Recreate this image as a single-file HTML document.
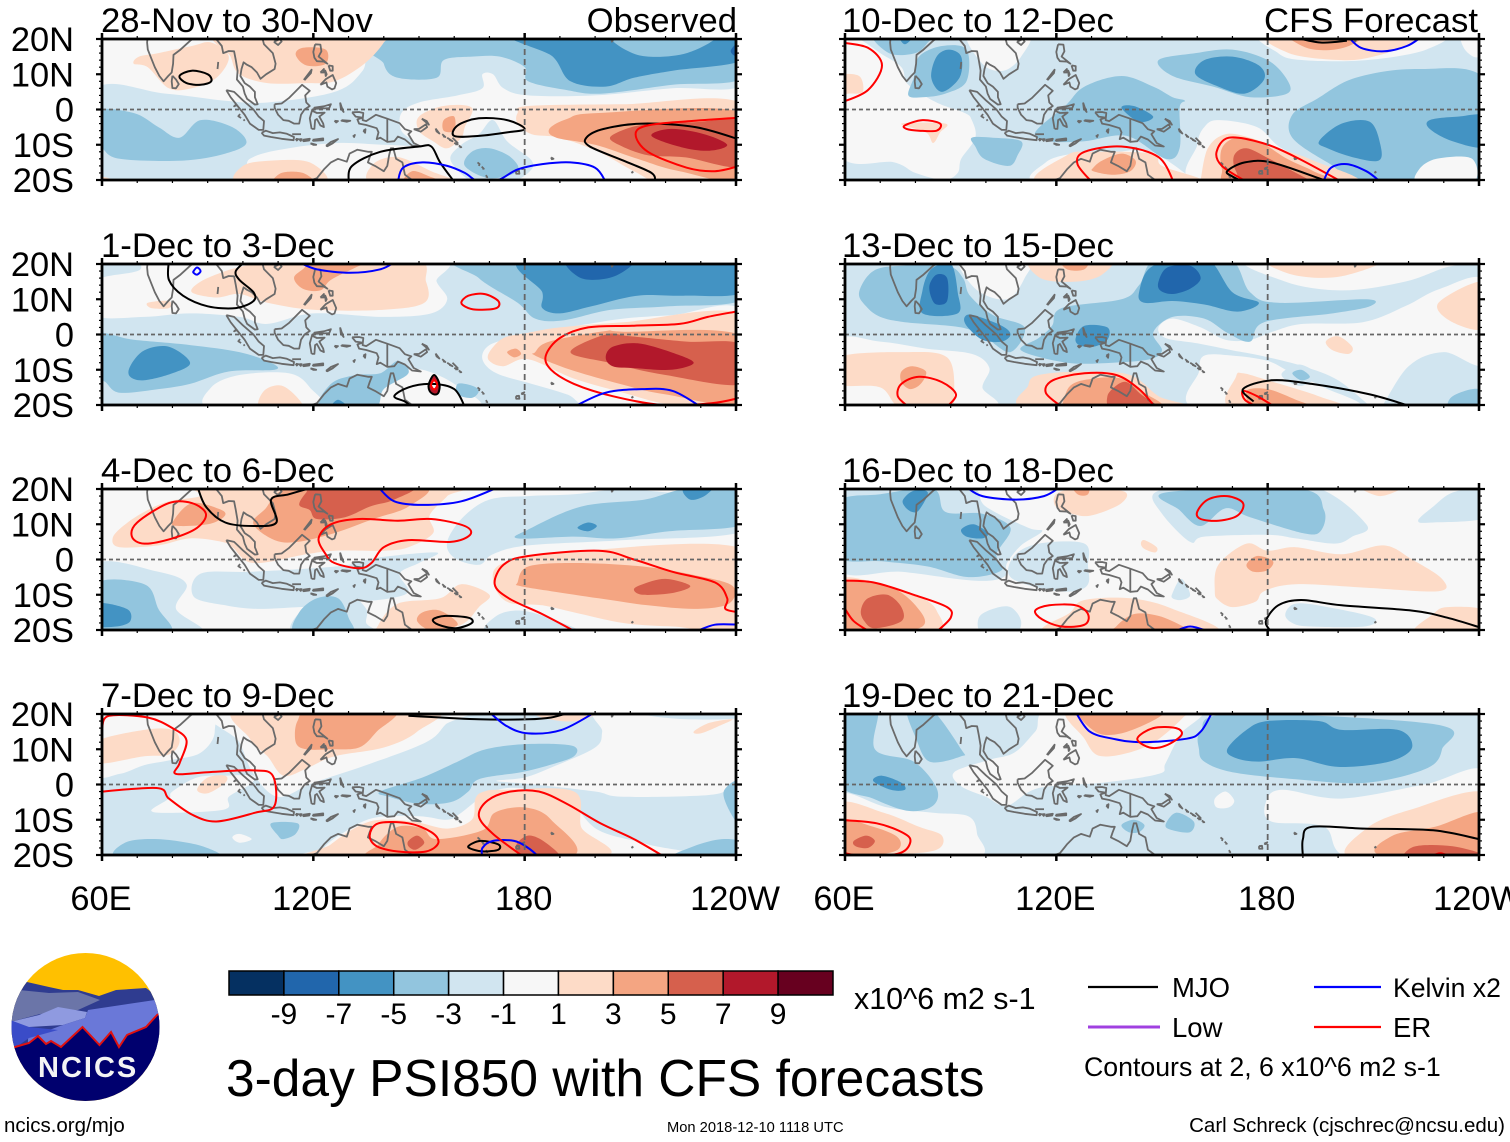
<!DOCTYPE html>
<html lang="en">
<head>
<meta charset="utf-8">
<title>3-day PSI850 with CFS forecasts</title>
<style>
html,body{margin:0;padding:0;background:#fff;width:1510px;height:1142px;overflow:hidden}
svg{display:block;font-family:"Liberation Sans",sans-serif}
text{fill:#000}
</style>
</head>
<body>
<svg id="chart" xmlns="http://www.w3.org/2000/svg" width="1510" height="1142" viewBox="0 0 1510 1142">
<rect x="0" y="0" width="1510" height="1142" fill="#fff"/>
<g id="panels"></g>

<g id="colorbar"></g>
<text x="854" y="1009" font-size="30.4">x10^6 m2 s-1</text>
<text x="226" y="1096" font-size="51.5">3-day PSI850 with CFS forecasts</text>

<g>
  <line x1="1088" y1="987" x2="1158" y2="987" stroke="#000" stroke-width="2.2"/>
  <text x="1172" y="997" font-size="27.5">MJO</text>
  <line x1="1314" y1="987" x2="1381" y2="987" stroke="#0000ff" stroke-width="2.2"/>
  <text x="1393" y="997" font-size="26.6">Kelvin x2</text>
  <line x1="1088" y1="1027" x2="1160" y2="1027" stroke="#a040e0" stroke-width="3"/>
  <text x="1172" y="1037" font-size="27.5">Low</text>
  <line x1="1314" y1="1027" x2="1381" y2="1027" stroke="#ff0000" stroke-width="2.2"/>
  <text x="1393" y="1037" font-size="27.5">ER</text>
  <text x="1084" y="1076" font-size="26.7">Contours at 2, 6 x10^6 m2 s-1</text>
</g>

<g>
  <defs><clipPath id="logoClip"><circle cx="85.5" cy="1027" r="74"/></clipPath></defs>
  <g clip-path="url(#logoClip)">
    <rect x="10" y="952" width="152" height="150" fill="#ffc000"/>
    <path d="M10 978 L27 982 L49 987 L63 990 L78 990 L99 996 L116 990 L146 988 L162 1000 L162 1060 L10 1060Z" fill="#2f3c90"/>
    <path d="M10 992 L19 990 L49 993 L78 992 L100 1000 L78 1010 L40 1014 L10 1022Z" fill="#6b75a8"/>
    <path d="M10 1022 L39 1015 L58 1007 L87 1012 L85 1018 L63 1025 L29 1027 L10 1026Z" fill="#8f9ae0"/>
    <path d="M28 1038 L60 1026 L85 1018 L88 1010 L155 1000 L162 1013 L162 1050 L28 1050Z" fill="#6a78d8"/>
    <path d="M10 1020 L29 1027 L58 1030 L29 1038 L15 1048 L10 1048Z" fill="#3a4cc8"/>
    <path d="M10 1048 L15 1047 L29 1043 L38 1036 L46 1044 L51 1041 L61 1047 L82.5 1027 L99.5 1045 L111 1032 L119 1047 L127 1035 L146 1027 L158 1014 L165 1008 L165 1105 L10 1105Z" fill="#00006e"/>
    <path d="M10 1048 L15 1047 L29 1043 L38 1036 L46 1044 L51 1041 L61 1047 L82.5 1027 L99.5 1045 L111 1032 L119 1047 L127 1035 L146 1027 L158 1014" fill="none" stroke="#e01010" stroke-width="2"/>
  </g>
  <text x="38" y="1077" font-size="29" font-weight="bold" letter-spacing="2" style="fill:#f4f4f4">NCICS</text>
</g>

<text x="4" y="1132" font-size="20.5">ncics.org/mjo</text>
<text x="667" y="1132" font-size="14.7">Mon 2018-12-10 1118 UTC</text>
<text x="1505" y="1132" font-size="20.5" text-anchor="end">Carl Schreck (cjschrec@ncsu.edu)</text>
</svg>

<script>
/* Colour-bar values */
const cbarLevels = [-9,-7,-5,-3,-1,1,3,5,7,9];
const cbarColors = ['#053061','#2166ac','#4393c3','#92c5de','#d1e5f0','#f7f7f7','#fddbc7','#f4a582','#d6604d','#b2182b','#67001f'];

/* Axis tick labels */
const lonTicks = [60,120,180,240];
const lonTickLabels = ['60E','120E','180','120W'];
const latTicks = [20,10,0,-10,-20];
const latTickLabels = ['20N','10N','0','10S','20S'];

/* Panel titles */
const panelTitles = ['28-Nov to 30-Nov','1-Dec to 3-Dec','4-Dec to 6-Dec','7-Dec to 9-Dec','10-Dec to 12-Dec','13-Dec to 15-Dec','16-Dec to 18-Dec','19-Dec to 21-Dec'];
const panelBackgrounds = [0,-1,0,-1,-1,-1,0,-1];

/* Coastlines: flat lon,lat runs */
const coastSegments = [
[73,21,72.8,19,73,17,74,14.5,75,12,76.3,9.5,77.5,8,78.8,9.5,79.8,10.5,80.2,13,80.3,15.5,82.3,17,85,19.5,87,21],
[80,9.6,81,8.5,81.8,7.2,81,6,80,6.1,79.8,8,80,9.6],
[91,22,92,20.5,94,18,94.4,16,96,16.6,97.5,16.5,98,14,98.5,11,98.3,8.5,100,6.5,100.5,4.5,101.2,3,103.4,1.4,104.2,1.5,103.4,3.5,103.4,5,102,6.5,100.5,7.5,99.3,9.5,99.6,11.5,100.2,13.4,101,12.8,102.5,12,104,10.5,105,8.7,106.6,10,109,11.5,109.3,13,108.5,16,106,18.5,105.6,20,107,21,109,21.5,111,21.5],
[108.8,19.2,110.5,20,111,19.3,110,18.3,108.8,19.2],
[95.3,5.5,97.5,5,100,2.6,103,0,104.5,-2,106,-3.3,105.8,-5.8,104.5,-5.8,102,-4,100.5,-1.5,98.5,1,96.5,3.5,95.3,5.5],
[105.3,-6.6,106.5,-6,108.5,-6.7,110.5,-6.5,112.5,-6.9,114.5,-7.8,114.4,-8.7,111,-8.3,108,-7.8,106,-7.4,105.3,-6.6],
[115,-8.3,115.7,-8.4,115.3,-8.8,115,-8.3],[116,-8.4,116.7,-8.4,116.4,-8.9,116,-8.4],
[117,-8.6,119,-8.3,118.8,-8.8,117.2,-9,117,-8.6],[119.8,-8.6,122.8,-8.2,122.8,-8.7,120,-8.9,119.8,-8.6],
[119.2,-9.6,120.8,-10,120,-10,119.2,-9.6],[123.6,-10.3,125,-9.2,127,-8.4,125.5,-9.6,124,-10.4,123.6,-10.3],
[109,1.5,111,1.7,113,3.2,115,5.2,116.8,7,119,5.3,117.7,4,118,2,119,1,117.5,0,116.5,-1.5,116,-4,114.5,-4,113,-3.2,111.5,-3,110,-1.5,109,0.5,109,1.5],
[119.5,-5.5,120.3,-5.5,120.5,-3,121,-2.7,122,-4.5,123,-5,122.8,-4,121.7,-2,123.2,-0.9,121,-1,120,-0.5,120.3,0.5,123,0.9,125,1.5,124.5,0.4,120.5,0.2,119.7,0,119,-2.5,119.5,-5.5],
[120.5,18.5,122,18.4,122.3,16.5,121.5,15,124,13,123,13.6,121,13.7,120.3,14.7,120,16.3,120.5,18.5],
[122,7,123.5,8.6,125.5,9.8,126.5,7.5,126,6,125.3,5.7,124,6.5,123.7,7.7,122,7],
[117.3,8.4,119.5,11.3,119.3,10.3,117.5,8.3],[122,10.5,123,11.5,123,10.5,122,10.5],[124.3,12.5,125.5,12.3,125.5,11,124.8,11,124.3,12.5],[123.3,11.2,123.8,10,123.5,9.5,123.3,11.2],
[127.6,2,128,0.8,128.6,-0.7,127.8,0.3,127.6,2],[126,-3.2,127,-3.3,126.5,-3.7,126,-3.2],[128,-3,130.5,-3.2,129.5,-3.5,128,-3.2,128,-3],
[131.2,-7.7,131.8,-7.2,131.5,-8],[134.2,-6,134.8,-5.6,134.7,-6.6,134.2,-6],
[131,-0.8,133,-0.7,134.2,-1,134,-3,135,-3.3,137.8,-1.5,141,-2.6,144.5,-3.9,146,-5.6,147.8,-6.2,147,-7,148.5,-9.5,150.5,-10.5,148,-10.2,146,-8.5,144,-7.7,143,-9,141,-9.2,139,-8,138,-8.4,138.5,-6.5,138,-5.3,135,-4.4,133,-4,132.5,-2.8,134,-2.3,132,-2,131,-0.8],
[141,-2.6,141,-9.2],
[148.5,-5.6,150,-5.5,152,-4.2,152.3,-5,150.5,-6.3,148.5,-5.6],[150.8,-2.6,152.8,-4.3,152.2,-3.3,150.8,-2.6],
[154.7,-5.4,155.8,-6.8,155,-6.2,154.7,-5.4],[156.6,-7,157.5,-7.8,156.8,-7.6],[158,-8,159.5,-9,158.6,-8.6],[159.5,-8,161,-9.5,160.4,-9.2],[160,-9.5,161,-9.9,160.3,-9.9],[161.3,-10.2,162,-10.7,161.5,-10.7],
[166.6,-15,167.2,-15.5,167,-16],[167.8,-16.2,168.4,-16.8,168,-16.8],[169,-18.6,169.4,-19.2,169,-19],
[164,-20,165.5,-21,164.6,-20.8],
[177.5,-17.5,178.4,-17.4,178.5,-18.2,177.6,-18.2,177.5,-17.5],[179,-16.8,179.9,-16.4,179.5,-16.9,179,-16.8],
[204.5,19.8,205,19.5,204.6,19.1],[187.5,-13.6,188.2,-14,187.7,-14.1,187.5,-13.6],[210.4,-17.6,210.7,-17.8,210.5,-17.9,210.4,-17.6],
[93,13.5,92.9,12.5,92.8,11.5],[98.2,1.5,97.5,0.9,98.2,1.2],[99.2,-1.3,98.7,-1.9,99.5,-2.4],[100.2,-2.8,100.5,-3.2],[116.5,-7,114,-7],
[118,-20.5,121,-19.5,122.2,-18,123,-17,125,-15,127,-14,129.5,-14.8,130.3,-12.5,132.5,-11.4,135.5,-12,136.6,-12,136,-13.5,135.5,-15,137.5,-16,140,-17.5,141,-16,141.5,-13,142,-11,142.7,-11,143.5,-14,145.3,-15,146,-18.5,148,-20,149.5,-21.5]
];

/* Shaded fields: [band, [lon,lat,...]] */
const fillsPanel1 = [
[-1,[140,22,181,22,242,22,242,7,222,6,200,4,181,4,174,6,171,10,168,10,168,6,161,4,150,2,145,-1,145,-6,149,-10,140,-10,127,-9.5,113,-11,102,-14,97,-21,58,-21,58,5.5,78,4.5,95,2.5,107,2,126,5,134,11]],
[-1,[171,-3,175,-9,182,-14.5,181,-18,175,-21,166,-21,159,-14.5,162,-10,167,-7]],
[-3,[58,-0.5,69,-1,76,-5,82,-8,88,-3,97,-5,101,-9.5,95,-12.5,83,-14.5,65,-14,60,-11,58,-10]],
[-3,[170,-11,176,-13.5,178,-17.5,170,-19.5,163,-16,165,-12]],
[-3,[140,22,140,13,144,9,155,9,157,14,165,15,173,15,180,12,181,8,192,5.5,202,4.5,222,7,242,9,242,22]],
[-5,[178,22,188,15,193,8,203,6.5,211,9,222,11,242,14,242,22]],
[-3,[205,22,212,15.5,226,16,234,22]],
[-7,[238.5,16.5,240,15,242,15,242,18.5,240,18.5]],
[1,[94,22,96.5,15,99,10,107,7.5,118,7.5,126,8,134.5,13,140,19,140,22]],
[1,[69,13,73,12,79,6,85.5,6,92.5,9,96,15,91,19,85.5,18,76,16,70.5,15]],
[3,[115,15.5,117,17.5,123.5,17,123.5,13,118,12.5]],
[1,[150,-2,157,1,165,0.5,163,-5,162,-8,158,-11,154,-9,150,-6]],
[3,[157,-3,160,-2,160,-6,157,-6]],
[1,[178,-1,181,1,208,1.5,242,1.5,242,-21,220,-21,211,-17.5,201,-12,190,-8,182,-7,178,-4]],
[3,[187,-5.5,192,-2.7,201,-1,242,-1,242,-19.5,224,-17.5,212,-14,200,-10,189,-8]],
[5,[204.6,-7.5,213.5,-4.3,228,-3.6,242,-3.6,242,-16,225.7,-13.6,215,-13,206.7,-10]],
[7,[216,-7.5,221.5,-5.5,231,-7,237.5,-10,232.5,-11.7,224.5,-10.7]],
[1,[99,-21,100,-16,108,-14.5,119,-15,123,-21]],
[3,[109,-21,111,-18,117,-18,120,-21]],
[1,[137,-15.5,144,-13.5,153.5,-17.5,160.5,-21,137,-21]],
[3,[146,-21,148,-17.5,153,-19,157,-21]],
[1,[58,-19,62,-19.5,64,-21,58,-21]]
];
const fillsPanel2 = [
[0,[58,15,70,18,80,22,153,22,155,15,158,10,153.5,6,140,5,120,6,107,3,99,5,85,6,72,5,58,5.5]],
[0,[99,-11.5,113,-11,119,-15,121,-21,91,-21,91,-15]],
[0,[138,-21,141,-13,145,-10.5,151,-10,160,-14,167,-21]],
[0,[242,6.5,222,5.5,208,4.5,195,2.5,182,0.5,178,-0.5,170,-3,168,-7,172,-11,182,-14,192,-17,202,-21,242,-21]],
[-3,[164.5,22,167,16,178,9,183,4.5,191,4,204.5,7,221,8,242,10,242,22]],
[-5,[181,22,185,12,185,7.5,190,6,199,8,212,11,225,11,242,12,242,22]],
[-7,[192,22,196,16,205.5,16.5,211,22]],
[-3,[58,0,69,-1.5,85,-3,99,-5,108,-8,109,-10,96,-10.5,85,-14,76,-15.5,65,-16.5,61,-13.5,58,-11]],
[-5,[68,-9,72,-4.5,79,-3.5,85,-8,80,-11,72,-13,68,-12]],
[-3,[122,-21,125,-14,132,-11.5,139,-11,144,-7.5,147,-11,140,-15.5,137,-21]],
[-5,[125,-21,127,-18.5,130,-21]],
[-3,[161,-14,165,-14.5,167,-16,165,-18,161,-17]],
[1,[85.5,12,88,15,95,18,102,20,104,22,147,22,152,15,151.5,9,140,7,120,7,107,9,99,11.5,92.5,10.5]],
[1,[73,9,79,9.5,79,7.5,74,7.5]],
[3,[114.5,16,117,18.5,122,22,138,22,132,19,125,15.5,122,12.5,117,13]],
[1,[105,-21,106,-16,111,-14.5,116,-18.5,116,-21]],
[1,[170,-5,174,-1,181,0.5,190,2,208,3.5,242,5.5,242,-18.5,228,-20,219,-19.5,208,-16.5,194,-12.5,181,-7,174,-9,170,-7.5]],
[3,[183,-5,187,-2,203,1,208,0.8,242,-0.5,242,-19,220,-17,207,-14,193,-10,183,-6]],
[5,[193,-5,203,0,210,-0.5,226,-2,242,-3,242,-14,220,-11.5,204,-8]],
[7,[203,-6.5,205,-3.5,212,-2.5,221.5,-5,228,-8,221.5,-10,211,-9.5,205,-9]],
[3,[175,-5,177.5,-4,179,-5.5,177,-6.5]],
[7,[154.3,-11.5,155.8,-14,155.5,-16.5,154.3,-17,153,-16,152.8,-14]],
[0,[154.3,-13.3,155,-14.3,154.3,-15.3,153.6,-14.3]]
];
const fillsPanel3 = [
[-1,[242,19,222,19,208,20,194,18.5,181,18,170,17,162.5,12,158,5,160,0.5,167,-1.5,171,1.5,181,4,208,5.5,242,8]],
[-1,[138,0.5,155,2,150,-1,144.5,-4,147,-9,142,-11,133,-12,128,-13,116,-13.5,104,-14,95,-13,86,-10.5,88,-4,102,-3.5,120,-2.5,130,-1.5]],
[-1,[115,-21,116,-15,122,-11,130,-10,135,-14,135,-18,137,-21]],
[-3,[115,-21,116,-15,121,-11,127,-11,130,-16.5,130.5,-21]],
[-1,[58,-1.5,76,-3.5,84,-7,81,-14,88,-21,58,-21]],
[-3,[58,-7,72,-7,76,-14,79,-21,58,-21]],
[-5,[58,-12.5,67,-14,68,-17.5,64,-19,58,-18.5]],
[-1,[170,-21,172,-16,179,-14.5,188,-17,195,-21]],
[-3,[242,19,226,20,214,17,196,15,181,8.5,178,6,194,6.5,206,6,221,8,242,10]],
[-5,[195,9,198,10.5,200.5,9.5,198,8]],
[-5,[225,20,231,21,234,21,231,18,227,17]],
[1,[63,6,66,9.5,72,13.5,79,16.5,88,18,92,21,160,21,158,18,153,12.5,154,7.5,147,3.5,140,2.5,126,2.5,118,1.5,103,-1,97,3.5,94,5,85,6,76,4,65,3.5]],
[3,[80,10.5,85.5,16,94,14,94.5,12,90,10,82,9.5]],
[3,[103,10,106,14,115.5,21,151,21,147,15,137,11.5,126,7.5,115.5,5,109,5.5]],
[5,[116,15.5,118,19,121,21,148,21,143,17,136,15,129,12,121,11.5,119,14]],
[1,[138.5,-18.5,144,-12.5,156,-11,162,-7,170,-10,167,-13.5,162,-18.5,151,-21,139,-21]],
[3,[149.5,-17.5,151,-15,156,-14.5,161,-18.5,153.5,-20]],
[1,[171,-6,174,-1,191,2,242,3,242,-19,222,-19,208,-18,194,-15,185,-13,175,-12]],
[3,[178,-6.5,181,-2,194.5,-1,213.5,-2,228.5,-4.5,239,-7.5,238,-12.5,228.5,-14,215,-13,201,-11,187.5,-9,178.5,-7.5]],
[5,[211,-8.5,213.5,-7,220,-5.5,227,-7.5,222,-9.5,213.5,-10]]
];
const fillsPanel4 = [
[0,[58,22,88,22,92,15,88,9,80,7,72,5.5,65,3,58,3.5]],
[0,[93,22,99,12,103,3,110,-3.5,120,0.5,135,5.5,152,12,157.5,17,162,22]],
[0,[80,-2,87,2,95,2.5,103,2.5,102,0,96,-3.5,95,-7,81,-8,74,-7.5,79,-4]],
[0,[202,22,202,15,200,10.5,188,5,180,2,172,1,183,0,200,-2,208,-3.5,232,-3,238,-1,240,2,242,7,242,22]],
[-1,[213,20,226,18.5,242,19,242,22,213,22]],
[0,[123,-21,123,-18,128,-14,137,-9.5,150,-9,158,-10,162,-8,168,-3.5,175,-1,185,-2,193,-5,201,-13,215,-17,225,-21]],
[1,[58,12,72,15.5,80,15.5,82,12,79,8.5,72,8,58,6]],
[1,[87,-1.5,90,2,95,2.5,95,0.5,90,-2.5]],
[1,[228,15,232.5,17.5,239,18.5,235,16.5,230,14.5]],
[-3,[139,-2,151,2,161,6.5,169,10,181,11.5,193.5,11,194,8,187,5.5,179,3.5,167,1.5,164,-2,159,-5,150,-5.5,141.5,-3.5]],
[-3,[108,-11,115.5,-11,115,-14,111.5,-15.5,110,-14.5]],
[-3,[65,-21,66.5,-16.5,76,-15.5,88.5,-17.5,92.5,-21]],
[-3,[222,-21,228,-17.5,236,-15.5,242,-16.5,242,-21]],
[-3,[242,1,236.5,-2,239,-9,242,-11.5]],
[0,[97,-15,99,-14,102.5,-15.5,99,-16.5]],
[1,[100,22,102,13,107,8,111.5,2.5,118,4.5,126,8,140,10.5,149.5,15,153.5,22]],
[1,[181,22,202,22,195,18,185,19]],
[3,[115,12,115.5,18,120,21,143,21,138,15,133,10.5,125,10,118,10]],
[1,[123,-21,125,-17,136,-10.5,148,-10.5,158,-12.5,165,-10,166,-4,168.5,-2,174,-1.5,194,-2,196,-12,200,-21]],
[3,[138.5,-17,144,-12,151,-12.5,155,-15.5,168,-13,171.5,-8,180,-6.5,187.5,-10,192,-21,139,-21]],
[5,[177.5,-17.5,181,-14.5,186,-16.5,190,-21,180,-21]],
[5,[147,-16,149.5,-14.5,151.5,-16.5,149,-18.5,147,-17.5]]
];
const fillsPanel5 = [
[0,[58,22,64,20,70,16,76,12,78,7,86,2,94,-1,96,-3,97,-8,93,-14,92,-18,88,-20,80,-18,74,-15,58,-12]],
[0,[115.5,-21,117,-15,125,-12.5,137,-12,147,-12,159,-20,159,-21]],
[0,[160,-10,162,-5,166,-3,177,-5,184,-11,198,-17.5,204,-21,160,-21]],
[0,[180,22,183,16,190,14,208,14,225,17,228,22]],
[0,[235,22,236,17,240,15,242,22]],
[0,[95,22,99,13,105,11,110,15,112,22]],
[-3,[68,22,72.5,16,80,16,83.5,19,85,22]],
[-3,[78,4,79.5,9,81,15,87.5,18,94.5,17,94.5,8,88.5,4.5,82,3.5]],
[-5,[84.5,9,86,15,89.5,17,93,15,92.5,9,87.5,5]],
[-5,[75,22,77,18.5,80,22]],
[-3,[114,-6.5,122.5,1,128,6.5,138.5,9.5,147.5,6.5,153,3.5,156.5,2.5,155,0.5,155,-11,151,-14,140,-7.5,128,-9,118,-9]],
[-5,[138.5,0.5,142,1,147.5,-2,143.5,-3.5]],
[-3,[149,14,159.5,16,170,17,180,14,185.5,8.5,185.5,4.5,175,3.5,164.5,6.5,153,9.5]],
[-5,[159.5,10,162,14,170,15,177.5,12.5,179,8.5,173.5,4.5,166,6.5]],
[-3,[187,-1.5,194,3,205,9,223,11.5,242,8,242,-21,209,-21,197,-15,187,-8]],
[-5,[194.6,-9,201,-4,209,-3.5,212,-10,211.5,-14.5,204,-13.5,197,-11]],
[-5,[226,-3,234,-2,242,-2,242,-10.5,232.5,-9,226,-5.5]],
[-3,[96,-8,102,-8,110,-9,109,-13,106.5,-16,99.5,-14,97,-10.5]],
[0,[223,-17,228,-14,238,-14,238,-21,223,-21]],
[1,[58,9.5,64,9.5,65,5,61,4.5,58,4.5]],
[1,[76,-4,88.5,-4,87,-6.5,85,-9.5,83,-6.5]],
[1,[115.5,-21,123,-13,130,-12,147,-12.5,150,-16,160.5,-19.5,160,-21]],
[3,[130.5,-16.5,133,-14.5,138.5,-12.5,142.5,-14.5,141,-17.5,136,-18.5,130.5,-17.5]],
[1,[161,-20,163,-11,168,-7,175,-8,183,-11,193,-14.5,205,-21,161,-21]],
[3,[167,-17,167,-11,171,-8,177.5,-9,185.5,-14,193,-17.5,198.5,-21,170,-21]],
[5,[171,-17.5,170.5,-13,174,-11,180.5,-14,192,-20,195,-21,175,-21]],
[1,[181,22,186,16,201,14,210,15,219,18,223.5,22]],
[3,[186,22,191,17.5,199,17,205,19,207,22]]
];
const fillsPanel6 = [
[0,[58,-2,70,-2,83,-4,96,-5.5,101,-9.5,99,-15,101,-21,58,-21]],
[0,[176,22,185,15,201.5,12.5,219,15,230.5,19,242,22]],
[0,[242,15,229,13,219,8,207,3.5,190,3,182,1,175,-1.5,168,-1.5,161,2,153,4.5,149,2,151,-1,160,-2.5,170,-4.5,178,-6,190,-9,200,-13,210,-21,212,-21,220,-9,230,-5,242,-8]],
[0,[160.5,-10.5,162,-6,170,-6,180,-7.5,187,-11,196,-15,205,-21,160,-21]],
[0,[93,22,97,13,106,10,111,16,112,22]],
[-1,[184,-11,189,-8.5,194,-11.5,190,-14.5,186,-13.5]],
[-3,[187,-11,189.5,-10,192,-12,189.5,-13]],
[-3,[64,12,68,18,76,19.5,89,19.5,93.5,16,95.5,11,102,5.5,111,2,107,-5,100,-1,93,2,77,3.5,70,5,66,8]],
[-3,[118.8,2.5,121.5,7.5,138.5,10,143.5,14,149,22,168.5,22,175,12,183,9,208,10,209,8,198.5,6,179,3.5,175,-2,168.5,0.5,162,4.5,153,5,147.5,0.5,150,-4.5,146.5,-7,136,-8,123,-8,110,-4.5,115,-1]],
[-5,[82,12.5,84,18,87.5,20,90.5,19.5,92,12,92,6,82,6]],
[-7,[84,14,86,17,89,16,89,9.5,86,8.5,84.5,10.5]],
[-5,[94,5,96.5,5.5,104.5,2.5,107,0,104.5,-2,99,-1.5,94.5,2.5]],
[-5,[125.5,-1,128,2.5,134.5,2,134.5,-1.5,130.5,-3.5,126.5,-3]],
[-5,[143.5,12,147.5,19.5,162,22,170,12,177.5,9,171.5,6.5,162,8.5,153,9.5,145,9]],
[-7,[149,15,151.5,19,158,19.5,161,16,158,13,153,11.5,149.5,12.5]],
[-3,[232,-21,232.5,-17.5,240,-15.5,242,-21]],
[1,[113,22,115.5,16,125.5,15,133,17,135,22]],
[3,[121,22,123,18.5,128,18.5,129,22]],
[1,[180,22,187,17,201,16.5,213,22]],
[1,[228.5,9,242,15,242,2,232.5,3.5]],
[1,[196.5,-2,200,-0.5,204,-3.5,203,-5.5,198.5,-4.5]],
[1,[58,-6.5,77,-5,89,-6.5,91,-16.5,89,-21,76,-21,70,-15,58,-14]],
[3,[76,-10.5,79,-9,83,-10.5,81.5,-14,78.5,-15.5,76,-13.5]],
[1,[112,-14.5,115,-11.5,128,-10.5,141,-11.5,149,-17.5,157,-21,112,-21]],
[3,[121.5,-20.5,124,-14.5,130.5,-12.5,138.5,-12.5,145,-16.5,149,-21,121,-21]],
[5,[134.5,-17.5,137,-14.5,140,-13.5,143.5,-16.5,147.5,-20.5,136,-21]],
[1,[171,-12,173,-11,180,-13,194.5,-17.5,201,-21,170,-21]],
[3,[174,-16,180,-15.5,188,-18.5,193,-21,177,-21]]
];
const fillsPanel7 = [
[-1,[58,22,93,22,100,15,112,9,116,8,110,4,106,-1,105,-5,96.5,-6,76,-3.5,58,-2.5]],
[-1,[108,1,115,4.5,128,4.5,129,-2,129,-7,125,-9,117,-8.5,107,-5]],
[-1,[148,19,162,21,192,21,208,10,204,6.5,199,4.5,188,6,180,7,162,6.5,158,5,150,13]],
[-1,[222.7,11,227,15,232.5,19,240,19.5,242,12,227,10.5]],
[-1,[153,-9.5,155.5,-5.5,158,-10,155.5,-11.5,153,-11]],
[-1,[185,-15.5,188,-12.5,197,-13.5,210,-16.5,207.5,-19,192,-19,187,-18]],
[-1,[98,-16.5,102,-14,107,-13.5,110,-17.5,108,-21,99,-21]],
[-3,[58,16,70,18.5,85,20,88.5,13.5,99,13,107,9,103,1.5,104.5,-3,95,-5,83.5,-2,70.5,-0.5,58,1]],
[-5,[76.5,17,79.5,19.5,83.5,19,81,14,79,13.5,77,15]],
[-5,[93,8.5,96.5,10,100.5,7.5,99,6,94.5,6.5]],
[-3,[151,19,189,20,196,14,195,8,190,7.5,175,12,168,14.5,161,9.5,155,14]],
[1,[119.5,15.5,122,19.5,138.5,19.5,138.5,16,130,12.5,124.5,13]],
[3,[124,22,126,18.5,129,18.5,129,22]],
[1,[144,4.5,145,5.5,148.5,3.5,148,2,145,3]],
[1,[165,-9,166,-1.5,174,4.5,180,2.5,188,3.5,201,1.5,213,4,221,0,229.5,-5.5,228.5,-9,208,-8,188,-7,179,-9,176.5,-12,170,-13.5,166,-11.5]],
[3,[174,-1.5,177,1,181.5,-0.5,180,-3,176,-3.5]],
[1,[58,-6,70.5,-7,81,-10.5,86,-14.5,85.5,-21,58,-21]],
[3,[58,-7,71,-7,80,-13,81,-19.5,58,-21]],
[5,[64.5,-14.5,66.5,-11,72,-10,76,-13.5,76,-17.5,68.5,-19.5,65.5,-17.5]],
[1,[118,-21,124,-15,128,-11.5,141,-11,153,-14,165,-21]],
[3,[137,-19,142,-15.5,149,-16,156,-19,158.5,-21,137,-21]],
[1,[205,22,212,18,220,22]],
[1,[222,-21,227,-15.5,231,-13.5,242,-14.5,242,-21]]
];
const fillsPanel8 = [
[0,[91,3.5,101,7,108,9,114,15,120,22,160,22,155,14,151,6,149,3,133,0.5,115,-1,106,-6,100,-3.5,93,-0.5]],
[0,[58,-3,72,-6.5,85,-8,95,-9,97.5,-14,96.5,-21,58,-21]],
[0,[165,-4,168,-2,170.5,-4.5,169,-6.5,165.5,-6.5]],
[0,[179.5,-5,184,-1.5,201,-4,224.5,0,242,3.5,242,-21,204,-21,196,-12,181,-10.5]],
[-3,[58,22,69,22,68.5,10,79.5,6.5,86,-1,85,-6,78,-7.5,68,-4,58,1]],
[-3,[77.5,22,84,22,93,10,93,8,84,6.5,80,13.5]],
[-5,[68,1,70.5,2.5,76,0.5,77,-1.5,73,-1.5]],
[-3,[160.5,10,161,15,170,20,228,17,229.5,10,225,4.5,208,0.5,188,1.5,170,3.5,162,6.5]],
[-5,[168.5,10,174,15.5,180,18,194.5,18,201,15.5,217,15.5,221,10.5,214.5,6.5,200,5,188,7.5,177.5,6.5,171,7.5]],
[-3,[138.5,-11.5,142,-10,145,-11.5,143.5,-13.5,140.5,-13.5]],
[-3,[151,-11.5,154,-8,159,-10.5,158,-13.5,153,-13]],
[1,[124,22,128,13,133,8,146,11,156,19,157,22]],
[3,[127,22,131,15,138.5,14.5,149,19,150,22]],
[1,[58,-5.5,71,-8,81,-12,87.5,-14.5,86,-18.5,74,-20,58,-21]],
[3,[58,-10,68,-12,75,-15,75,-18.5,68,-20,58,-19.5]],
[5,[62.5,-16,66,-14.5,68.5,-16,66.5,-18,63,-17.5]],
[1,[204,-21,208,-12.5,221,-7,242,-2.5,242,-21]],
[3,[212,-20,215.5,-14.5,227.5,-12,242,-8,242,-21]],
[5,[218,-20.5,222,-17.5,232.5,-17.5,242,-20,242,-21,218,-21]]
];

/* Contours: [wave type, closed flag, [lon,lat,...]] */
const contoursPanel1 = [
['mjo',1,[82,9.5,85.5,11,90,10,91,8,88,7,84,7.5]],
['mjo',1,[160,-7.5,161,-4.5,167,-2.5,175,-3,180,-5.5,175,-6.5,167,-7.5]],
['mjo',0,[130,-20.5,131,-16,139,-12,150,-10.5,153.5,-10.5,156,-15,160,-20.5]],
['mjo',0,[217,-20.5,216,-18,208,-14.5,198.5,-10.5,197.5,-8,202.5,-5.5,213.5,-4,228.5,-5,241,-8.5]],
['er',0,[241,-2.3,227,-3.3,215,-4.5,211.5,-7,215,-12,226,-16.5,234,-17.5,241,-16]],
['kelvin',0,[144,-20.5,145.5,-16.5,151,-15,158,-16,163,-18,167,-20.5,172.5,-20,178,-17,185,-15.5,193,-15,200,-16.5,203,-20.5]]
];
const contoursPanel2 = [
['mjo',0,[79,21,79,15.5,83,11,90,8,98,7.5,103,9.5,103,12,99,15.5,98,18,101,21]],
['kelvin',1,[86,18,87,19,88,18,87,17,86,17.5]],
['kelvin',0,[116,20.5,121,18.5,130.5,17.5,139,18.5,143,20.5]],
['er',1,[162,9,164,11,168.5,11.5,172.5,9.5,172,7.5,167,7,164,7.5]],
['mjo',0,[148,-20.5,146,-19,143,-17.5,147,-15,153.5,-14,160,-15.5,163,-20.5]],
['mjo',1,[154.3,-11.5,155.8,-14,155.5,-16.5,154.3,-17,153,-16,152.8,-14]],
['er',1,[154.3,-13,155.2,-14.3,154.3,-15.6,153.4,-14.3]],
['er',0,[240,6.5,232,5,224,3,210.5,2.5,198,2,190,-1,186,-6,187.5,-10,194,-14,205,-17.5,219,-20,233,-19.5,241,-18]],
['kelvin',0,[194,-20.5,203,-16.5,213.5,-15.5,222,-16,230,-20.5]]
];
const contoursPanel3 = [
['er',1,[68.5,6.5,70,10.5,79,16,85.5,16,89.5,13,87,9,80,6,72,4.5]],
['mjo',0,[87,21,89.5,15,95,10.5,103,9.5,109.5,10.5,108,17,113,18.5,120,20.5]],
['kelvin',0,[138.5,20.5,143,16.5,151,15.5,162,16.5,172.5,20.5]],
['er',1,[121.5,6,125,10,133,11.5,144,11,153.5,11.5,163,9.5,164.5,7,159,5,147,5.5,140,3.5,136.5,-1,133,-2.5,126,-1,123.5,1.5]],
['mjo',1,[154,-17,157.5,-16,164,-16.5,165,-18,160.5,-19.5,155.5,-18.5]],
['er',0,[194.5,-20.5,185,-15.5,175.5,-11,171.5,-7,174,-1.5,181,1,201,2.5,211,0,222,-3.5,234,-6.5,237.5,-11,237,-14,241,-15]],
['kelvin',0,[228.5,-20.5,234,-18.5,241,-18.5]]
];
const contoursPanel4 = [
['er',0,[60,16,62,19.5,73,19,80,16,84,12.5,82,6,81,3,90,3.5,103,4,108.5,2.5,109,-6,103.5,-8,92.5,-10.5,85.5,-8.5,79,-4,75.5,-1,58,-2.2]],
['er',1,[136,-14.5,138.5,-11,147,-11,153.5,-13.5,155.5,-16.5,152,-19,144,-19,138,-17.5]],
['mjo',1,[164,-17.5,167.5,-16,172.5,-17,172.5,-18.5,168.5,-19,165.5,-18.5]],
['kelvin',0,[168,-20.5,168,-18,171,-16,177,-16,181,-18,184,-20.5]],
['er',0,[179,-20,171,-14,167,-9,169.5,-4.5,176,-2,184,-2,192,-5.5,201.5,-11,211,-15.5,220.5,-21]],
['mjo',0,[147,19.5,167,18.5,181,18.5,187.5,19,193,20.5]],
['kelvin',0,[170,20.5,175,16.5,181,14.5,190.5,15.5,200,20.5]]
];
const contoursPanel5 = [
['er',0,[59,19,66.5,17.5,70.5,12.5,66.5,5.5,59,2]],
['er',1,[77,-4.5,82,-3,87,-4,86,-6,81,-6,77.5,-5.5]],
['er',0,[130.5,-21,126,-15.5,128,-12,138.5,-10.5,149,-13.5,153.5,-21]],
['er',0,[174,-20.5,167,-16,165.5,-12,169,-8,178.5,-9.5,188,-13.5,201,-20.5]],
['mjo',0,[173,-20.5,170,-19,168.5,-17.5,173.5,-15,181,-15,194.5,-19.5,197,-20.5]],
['kelvin',0,[196,-20,198,-16.5,202.5,-15.5,208,-17.5,212,-20.5]],
['mjo',0,[187.5,20.5,195,19,202.5,19.5]],
['kelvin',0,[203,20.5,206.5,17.5,213,16.5,219.5,18,223.5,20.5]]
];
const contoursPanel6 = [
['er',0,[78,-20.5,75,-17.5,76,-14,81,-12,87.5,-13.5,91.5,-17,89,-20.5]],
['er',0,[121.5,-20.5,117,-16.5,119,-13,128,-11,137,-11.5,143.5,-15.5,148,-20.5]],
['er',0,[182,-20.5,177,-17.5,173,-16,173.5,-18.5,177,-20.5]],
['mjo',0,[176,-19,173,-15.5,181,-13,192.5,-14,209,-17,221,-20.5]]
];
const contoursPanel7 = [
['kelvin',0,[94.5,20.5,99,18,108.5,17,116.5,18,121,20.5]],
['er',1,[160,13.5,163,17,168.5,18,173,16,171.5,12.5,166,11,161,11.5]],
['er',0,[58,-6,68,-6.5,79.5,-10,89,-13.5,90,-16.5,86,-20.5]],
['er',0,[60,-14,62.5,-17.5,67,-20.5]],
['er',1,[114,-14.5,118,-13,125.5,-13,129,-15.5,128,-18.5,121.5,-19,116,-17]],
['kelvin',0,[153.5,-20.5,158,-19,163.5,-20.5]],
['mjo',0,[181,-20.5,179.5,-17.5,183,-13,189.5,-11.5,201,-13,221,-14.5,231,-16.5,241,-19.5]]
];
const contoursPanel8 = [
['kelvin',0,[125.5,20.5,129.5,15,136,13,144,12,157,13,161,15,164,20]],
['er',1,[143,13,147.5,16,154,16,155.5,14,151,11,146.5,10.5]],
['er',0,[58,-10,69,-11,77,-14,78.5,-16.5,75.5,-19.5,66,-20.5,58,-19]],
['mjo',0,[190,-20.5,190,-15.5,192.5,-12,207.5,-12.5,227,-13,240,-15.5]],
['er',0,[226,-20.5,229,-19.5,232,-20.5]]
];

const allFills = [fillsPanel1,fillsPanel2,fillsPanel3,fillsPanel4,fillsPanel5,fillsPanel6,fillsPanel7,fillsPanel8];
const allContours = [contoursPanel1,contoursPanel2,contoursPanel3,contoursPanel4,contoursPanel5,contoursPanel6,contoursPanel7,contoursPanel8];

/* ---------- layout and axis functions ---------- */
const NS = 'http://www.w3.org/2000/svg';
const panelW = 634, panelH = 141;
const panelLefts = [102,102,102,102,845,845,845,845];
const panelTops = [39,264,489,714,39,264,489,714];
const bandColor = {'-7':'#2166ac','-5':'#4393c3','-3':'#92c5de','-1':'#d1e5f0','0':'#f7f7f7','1':'#fddbc7','3':'#f4a582','5':'#d6604d','7':'#b2182b'};
const waveColor = {mjo:'#000000',kelvin:'#0000ff',er:'#ff0000'};
const waveName = {mjo:'mjo-contour',kelvin:'kelvin-contour',er:'er-contour'};

function xScale(lon, left){ return left + (lon-60)/180*panelW; }
function yScale(lat, top){ return top + (20-lat)/40*panelH; }

function el(tag, attrs, parent){
  const e = document.createElementNS(NS, tag);
  for (const k in attrs) e.setAttribute(k, attrs[k]);
  parent.appendChild(e);
  return e;
}
function toPoints(flat, left, top){
  const p = [];
  for (let i=0;i<flat.length;i+=2) p.push([xScale(flat[i],left), yScale(flat[i+1],top)]);
  return p;
}
function smoothPath(p, closed){
  const n = p.length, f = v => v.toFixed(1);
  const at = i => closed ? p[(i+n)%n] : p[Math.max(0,Math.min(n-1,i))];
  let d = 'M'+f(p[0][0])+' '+f(p[0][1]);
  const segs = closed ? n : n-1;
  for (let i=0;i<segs;i++){
    const a=at(i-1), b=at(i), c=at(i+1), e=at(i+2);
    d += 'C'+f(b[0]+(c[0]-a[0])/6)+' '+f(b[1]+(c[1]-a[1])/6)+' '+f(c[0]-(e[0]-b[0])/6)+' '+f(c[1]-(e[1]-b[1])/6)+' '+f(c[0])+' '+f(c[1]);
  }
  return d + (closed?'Z':'');
}
function linePath(p){
  return 'M'+p.map(q=>q[0].toFixed(1)+' '+q[1].toFixed(1)).join('L');
}

const panelsRoot = document.getElementById('panels');
panelTitles.forEach(function(title, idx){
  const left = panelLefts[idx], top = panelTops[idx];
  const titleShift = idx < 4 ? -1 : -3;
  const g = el('g', {}, panelsRoot);
  
  

  const cp = el('clipPath', {id:'clip'+idx}, g);
  el('rect', {x:left, y:top, width:panelW, height:panelH}, cp);

  const plot = el('g', {'clip-path':'url(#clip'+idx+')'}, g);
  const bg = el('rect', {x:left, y:top, width:panelW, height:panelH, fill:bandColor[panelBackgrounds[idx]]}, plot);
  
  

  allFills[idx].forEach(function(item){
    const s = el('path', {d:smoothPath(toPoints(item[1],left,top),true), fill:bandColor[item[0]]}, plot);
    
    
  });

  coastSegments.forEach(function(seg){
    const c = el('path', {d:linePath(toPoints(seg,left,top)), fill:'none', stroke:'#6a6a6a', 'stroke-width':1.8, 'stroke-linejoin':'round'}, plot);
    
    
  });

  allContours[idx].forEach(function(item){
    const c = el('path', {d:smoothPath(toPoints(item[2],left,top),!!item[1]), fill:'none', stroke:waveColor[item[0]], 'stroke-width':2}, plot);
    
    
  });

  const eq = el('line', {x1:left, x2:left+panelW, y1:yScale(0,top), y2:yScale(0,top), stroke:'#666', 'stroke-width':1.8, 'stroke-dasharray':'4 3'}, plot);
  
  
  const dl = el('line', {x1:xScale(180,left), x2:xScale(180,left), y1:top, y2:top+panelH, stroke:'#666', 'stroke-width':1.8, 'stroke-dasharray':'6 4'}, plot);
  
  

  /* ticks */
  const ticks = el('g', {stroke:'#000'}, g);
  
  
  for (let lon=60; lon<=240; lon+=10){
    const major = lonTicks.includes(lon), len = major?6:3, w = major?2.5:1.2, x = xScale(lon,left);
    el('line', {x1:x,x2:x,y1:top-len,y2:top,'stroke-width':w}, ticks);
    el('line', {x1:x,x2:x,y1:top+panelH,y2:top+panelH+len,'stroke-width':w}, ticks);
  }
  for (let lat=-20; lat<=20; lat+=2){
    const major = lat%10===0, len = major?6:3, w = major?2.2:1.2, y = yScale(lat,top);
    el('line', {x1:left-len,x2:left,y1:y,y2:y,'stroke-width':w}, ticks);
    el('line', {x1:left+panelW,x2:left+panelW+len,y1:y,y2:y,'stroke-width':w}, ticks);
  }

  const frame = el('rect', {x:left, y:top, width:panelW, height:panelH, fill:'none', stroke:'#000', 'stroke-width':2.8}, g);
  
  

  const t = el('text', {x:left+titleShift, y:top-7, 'font-size':34.7}, g);
  t.textContent = title;
  
  

  if (idx < 4){
    latTicks.forEach(function(lat, j){
      const lab = el('text', {x:74, y:yScale(lat,top)+12, 'font-size':34.4, 'text-anchor':'end'}, g);
      lab.textContent = latTickLabels[j];
      
      
    });
  }
  if (idx === 3 || idx === 7){
    lonTicks.forEach(function(lon, j){
      const lab = el('text', {x:xScale(lon,left)-1, y:910, 'font-size':34.4, 'text-anchor':'middle'}, g);
      lab.textContent = lonTickLabels[j];
      
      
    });
  }
  if (idx === 0 || idx === 4){
    const r = el('text', {x:idx===0 ? left+panelW+1 : left+panelW-1, y:top-7, 'font-size':34.7, 'text-anchor':'end'}, g);
    r.textContent = idx===0 ? 'Observed' : 'CFS Forecast';
    
    
  }
});

/* colour bar */
const cbarRoot = document.getElementById('colorbar');
const cbarX = 229, cbarW = 604, cbarY = 971, cbarH = 24;
const boxW = cbarW / cbarColors.length;
cbarColors.forEach(function(col, i){
  const r = el('rect', {x:cbarX+i*boxW, y:cbarY, width:boxW, height:cbarH, fill:col, stroke:'#000', 'stroke-width':1.5}, cbarRoot);
  
  
});
cbarLevels.forEach(function(v, i){
  const t = el('text', {x:cbarX+(i+1)*boxW, y:1024, 'font-size':30, 'text-anchor':'middle'}, cbarRoot);
  t.textContent = String(v);
  
  
});
</script>
</body>
</html>
